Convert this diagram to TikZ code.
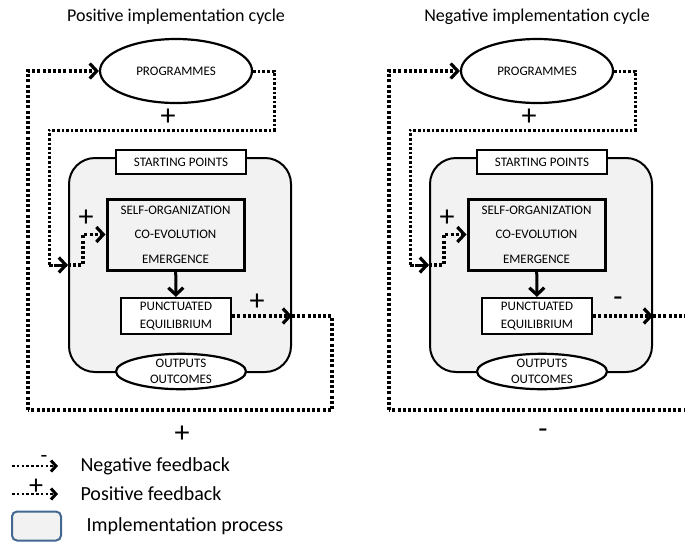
\documentclass[tikz,border=0pt]{standalone}
\usepackage{fontspec}
\setmainfont{Carlito}
\usetikzlibrary{arrows.meta,shapes.geometric,positioning}

\definecolor{procgray}{RGB}{242,242,242}
\definecolor{legendblue}{RGB}{66,104,145}

\begin{document}
\begin{tikzpicture}[x=1pt, y=-1pt,
    fb/.style={line width=3.4pt, dash pattern=on 3pt off 2.2pt},
    fbthin/.style={line width=3pt, dash pattern=on 2.6pt off 2pt},
    barb/.style={-{Straight Barb[length=7pt,width=15pt,line width=3.2pt]}},
    box/.style={draw, line width=2.2pt, fill=white, align=center, inner sep=0pt, font=\fontsize{13}{18}\selectfont},
    oval/.style={ellipse, draw, line width=2.2pt, fill=white, align=center, inner sep=0pt, font=\fontsize{13}{16.5}\selectfont},
    sign/.style={font=\fontsize{30}{30}\selectfont, inner sep=0pt},
    process/.style={draw, line width=2pt, rounded corners=26pt, fill=procgray}]
    \useasboundingbox (0,0) rectangle (685,541);
    \clip (0,0) rectangle (685,541);

    % the two cycles, same layout
    \foreach \n/\dx/\sg/\ttl in {P/0/+/Positive, N/361/-/Negative}{
    \begin{scope}[xshift=\dx pt]
        \node[font=\fontsize{18}{20}\selectfont] (title\n) at (176,17) {\ttl\ implementation cycle};

        % implementation process
        \node[process, minimum width=222pt, minimum height=214pt] (proc\n) at (180,265) {};
        \node[box, minimum width=130pt, minimum height=24pt] (start\n) at (181,162) {STARTING POINTS};
        \node[box, fill=procgray, line width=3pt, minimum width=137pt, minimum height=71pt,
              font=\fontsize{13}{24.5}\selectfont] (self\n) at (175.5,234.5) {SELF-ORGANIZATION\\CO-EVOLUTION\\EMERGENCE};
        \node[box, minimum width=110pt, minimum height=36pt] (punct\n) at (176,316) {PUNCTUATED\\EQUILIBRIUM};
        \node[oval, minimum width=130pt, minimum height=35pt] (out\n) at (181,371.5) {OUTPUTS\\OUTCOMES};
        \node[oval, minimum width=152pt, minimum height=64pt] (prog\n) at (176,71) {PROGRAMMES};

        \draw[line width=3pt, barb] (self\n) -- (punct\n);

        % inner loop: programmes back into the process
        \coordinate (inR\n) at (274,130);
        \coordinate (inL\n) at (49,130);
        \draw[fbthin] (prog\n.east) -| (inR\n) -- (inL\n) |- (proc\n.west);
        \draw[fbthin, barb] (inL\n |- proc\n.west) -- (proc\n.west);
        \draw[fb, barb] (proc\n.west) -- ++(15,0) |- (self\n.west);

        % outer loop: feedback to programmes
        \coordinate (outR\n) at (332,410);
        \coordinate (outL\n) at (28,410);
        \draw[fb, barb] (punct\n.east) -- (proc\n.east |- punct\n.east);
        \draw[fb] (proc\n.east |- punct\n.east) -| (outR\n) -- (outL\n);
        \draw[fb, barb] (outL\n) |- (prog\n.west);

        % signs
        \node[sign] (signA\n) at (168,117) {+};
        \node[sign] (signB\n) at (86,218) {+};
        \node[sign] (signC\n) at (257,302) {\sg};
        \node[sign] (signD\n) at (182,434) {\sg};
    \end{scope}
    }

    % legend
    \coordinate (negA) at (12,466);
    \coordinate (negB) at (58,466);
    \draw[fb, line width=2.8pt, dash pattern=on 2.6pt off 2.2pt, -{Straight Barb[length=5pt,width=11pt,line width=3pt]}] (negA) -- (negB);
    \node[font=\fontsize{22}{22}\selectfont, inner sep=0pt] (negS) at (44,459) {-};
    \node[anchor=west, font=\fontsize{20}{22}\selectfont] (negT) at (77,466) {Negative feedback};

    \coordinate (posA) at (12,494);
    \coordinate (posB) at (58,494);
    \draw[fb, line width=2.8pt, dash pattern=on 2.6pt off 2.2pt, -{Straight Barb[length=5pt,width=11pt,line width=3pt]}] (posA) -- (posB);
    \node[font=\fontsize{28}{28}\selectfont, inner sep=0pt] (posS) at (36,487) {+};
    \node[anchor=west, font=\fontsize{20}{22}\selectfont] (posT) at (77,494) {Positive feedback};

    \node[draw=legendblue, line width=2pt, rounded corners=5pt, fill=procgray,
          minimum width=49pt, minimum height=29pt] (legP) at (36.5,526) {};
    \node[anchor=west, font=\fontsize{20}{22}\selectfont] (legT) at (83,526) {Implementation process};
\end{tikzpicture}
\end{document}
